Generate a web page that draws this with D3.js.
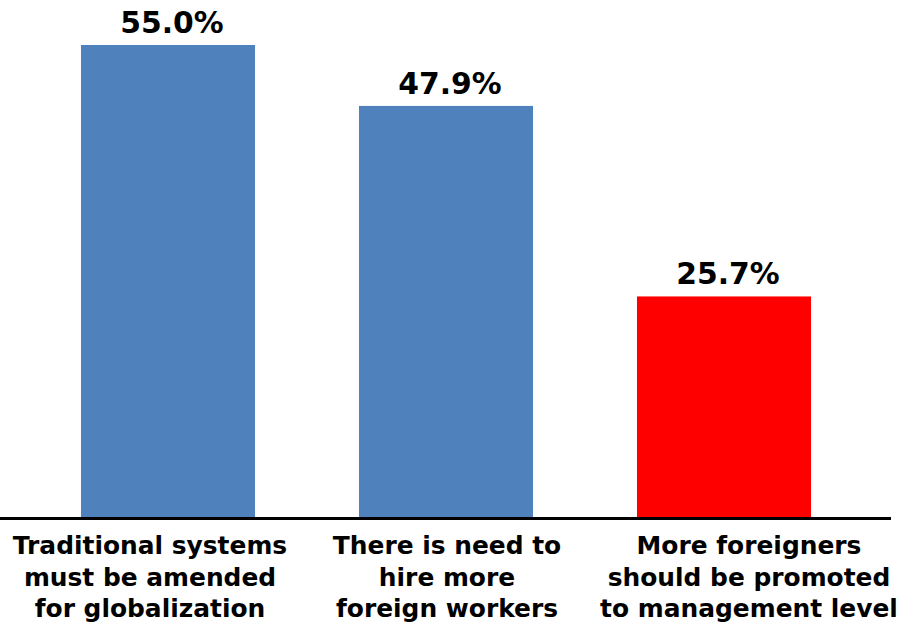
<!DOCTYPE html>
<html><head><meta charset="utf-8">
<script src="https://cdn.jsdelivr.net/npm/d3@7"></script>
<style>body{margin:0;background:#fff}svg{display:block}</style>
</head><body>
<script>
const categories = [
  ["Traditional systems", "must be amended", "for globalization"],
  ["There is need to", "hire more", "foreign workers"],
  ["More foreigners", "should be promoted", "to management level"]
];
const values = [55.0, 47.9, 25.7];
const colors = ["#4F81BD", "#4F81BD", "#FF0000"];

const W = 901, H = 625;
const font = "'DejaVu Sans', Verdana, sans-serif";
const svg = d3.select("body").append("svg").attr("width", W).attr("height", H);

const x = d3.scaleBand().domain(d3.range(values.length)).range([29, 863])
  .paddingInner(0.374).paddingOuter(0.187);
const y = d3.scaleLinear().domain([0, 55]).range([517, 45]);

svg.selectAll("rect.bar").data(values).enter().append("rect")
  .attr("x", (d, i) => x(i)).attr("width", x.bandwidth())
  .attr("y", d => y(d)).attr("height", d => y(0) - y(d))
  .attr("fill", (d, i) => colors[i]);

svg.append("line").attr("x1", 0).attr("x2", 891).attr("y1", y(0) + 1.5).attr("y2", y(0) + 1.5)
  .attr("stroke", "#000").attr("stroke-width", 3);

svg.selectAll("text.val").data(values).enter().append("text")
  .attr("x", (d, i) => x(i) + x.bandwidth() / 2 + 4).attr("y", d => y(d) - 12)
  .attr("text-anchor", "middle").attr("font-family", font).attr("font-weight", "bold")
  .attr("font-size", 29.8).attr("fill", "#000").text(d => d.toFixed(1) + "%");

const labelShift = [-18, 1, 25];
categories.forEach((lines, i) => {
  const t = svg.append("text").attr("text-anchor", "middle").attr("font-family", font)
    .attr("font-weight", "bold").attr("font-size", 24.9).attr("fill", "#000");
  lines.forEach((ln, j) => {
    t.append("tspan").attr("x", x(i) + x.bandwidth() / 2 + labelShift[i])
      .attr("y", 554 + j * 31.5).text(ln);
  });
});
</script>
</body></html>
